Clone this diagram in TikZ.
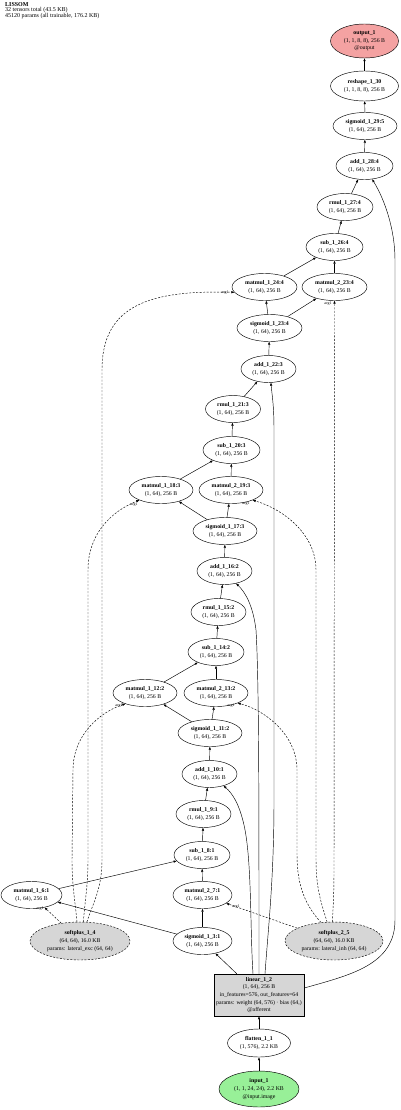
\documentclass[tikz,border=0pt]{standalone}
\usepackage{fontspec}
\setmainfont{Liberation Serif}
\usetikzlibrary{shapes.geometric,arrows.meta,calc}
\definecolor{outred}{HTML}{F4A2A2}
\definecolor{ingreen}{HTML}{98F098}
\definecolor{pgray}{HTML}{D6D6D6}
\begin{document}
\begin{tikzpicture}[x=1pt,y=-1pt,
  every node/.style={font=\fontsize{5.8}{7.6}\selectfont, inner sep=0pt},
  op/.style={ellipse, draw, line width=0.45pt, align=center, minimum height=27},
  parm/.style={op, fill=pgray, dash pattern=on 2pt off 1.5pt, minimum height=38},
  conn/.style={-{Triangle[length=3pt,width=2.2pt]}, line width=0.45pt},
  dconn/.style={conn, dash pattern=on 2pt off 1.5pt},
  arglbl/.style={font=\fontsize{4}{4}\selectfont}
]
\useasboundingbox (0,0) rectangle (400,1110);

\node[anchor=north west, align=left, font=\fontsize{6}{5.8}\selectfont] (title) at (5,2)
  {\textbf{LISSOM}\\32 tensors total (43.5 KB)\\45120 params (all trainable, 176.2 KB)};

% nodes
\node[op, fill=outred, minimum width=68, minimum height=34] (out) at (364.5,41) {\textbf{output\_1}\\(1, 1, 8, 8), 256 B\\@output};
\node[op, minimum width=68, minimum height=30] (resh) at (364.5,86) {\textbf{reshape\_1\_30}\\(1, 1, 8, 8), 256 B};
\node[op, minimum width=64] (sg29) at (365,126) {\textbf{sigmoid\_1\_29:5}\\(1, 64), 256 B};
\node[op, minimum width=57] (a28) at (364.5,166) {\textbf{add\_1\_28:4}\\(1, 64), 256 B};
\node[op, minimum width=56] (rm27) at (345,207) {\textbf{rmul\_1\_27:4}\\(1, 64), 256 B};
\node[op, minimum width=57] (sb26) at (334.5,247) {\textbf{sub\_1\_26:4}\\(1, 64), 256 B};
\node[op, minimum width=65] (m24) at (264.5,287) {\textbf{matmul\_1\_24:4}\\(1, 64), 256 B};
\node[op, minimum width=65] (m23) at (334.5,287) {\textbf{matmul\_2\_23:4}\\(1, 64), 256 B};
\node[op, minimum width=65] (sg23) at (269.5,328) {\textbf{sigmoid\_1\_23:4}\\(1, 64), 256 B};
\node[op, minimum width=55] (a22) at (268.5,369) {\textbf{add\_1\_22:3}\\(1, 64), 256 B};
\node[op, minimum width=55] (rm21) at (233,409) {\textbf{rmul\_1\_21:3}\\(1, 64), 256 B};
\node[op, minimum width=57] (sb20) at (231.5,450) {\textbf{sub\_1\_20:3}\\(1, 64), 256 B};
\node[op, minimum width=64] (m18) at (161,490) {\textbf{matmul\_1\_18:3}\\(1, 64), 256 B};
\node[op, minimum width=64] (m19) at (231,490) {\textbf{matmul\_2\_19:3}\\(1, 64), 256 B};
\node[op, minimum width=64] (sg17) at (225,531) {\textbf{sigmoid\_1\_17:3}\\(1, 64), 256 B};
\node[op, minimum width=55] (a16) at (224.5,571) {\textbf{add\_1\_16:2}\\(1, 64), 256 B};
\node[op, minimum width=55] (rm15) at (218.5,612) {\textbf{rmul\_1\_15:2}\\(1, 64), 256 B};
\node[op, minimum width=56] (sb14) at (216,652) {\textbf{sub\_1\_14:2}\\(1, 64), 256 B};
\node[op, minimum width=64] (m12) at (145,693) {\textbf{matmul\_1\_12:2}\\(1, 64), 256 B};
\node[op, minimum width=64] (m13) at (216,693) {\textbf{matmul\_2\_13:2}\\(1, 64), 256 B};
\node[op, minimum width=64] (sg11) at (210,733) {\textbf{sigmoid\_1\_11:2}\\(1, 64), 256 B};
\node[op, minimum width=55] (a10) at (209.5,774) {\textbf{add\_1\_10:1}\\(1, 64), 256 B};
\node[op, minimum width=55] (rm9) at (203.5,814) {\textbf{rmul\_1\_9:1}\\(1, 64), 256 B};
\node[op, minimum width=56] (sb8) at (202,855) {\textbf{sub\_1\_8:1}\\(1, 64), 256 B};
\node[op, minimum width=61] (m6) at (31.5,895) {\textbf{matmul\_1\_6:1}\\(1, 64), 256 B};
\node[op, minimum width=59] (m7) at (202.5,895) {\textbf{matmul\_2\_7:1}\\(1, 64), 256 B};
\node[parm, minimum width=100] (sp1) at (80,941) {\textbf{softplus\_1\_4}\\(64, 64), 16.0 KB\\params: lateral\_exc (64, 64)};
\node[op, minimum width=59] (sg3) at (202.5,941) {\textbf{sigmoid\_1\_3:1}\\(1, 64), 256 B};
\node[parm, minimum width=98] (sp2) at (334,941) {\textbf{softplus\_2\_5}\\(64, 64), 16.0 KB\\params: lateral\_inh (64, 64)};
\node[rectangle, draw, line width=0.45pt, fill=pgray, minimum width=90, minimum height=42, align=center] (lin) at (259,995)
  {\textbf{linear\_1\_2}\\(1, 64), 256 B\\in\_features=576, out\_features=64\\params: weight (64, 576) · bias (64,)\\@afferent};
\node[op, minimum width=63, minimum height=28] (fl) at (259,1043) {\textbf{flatten\_1\_1}\\(1, 576), 2.2 KB};
\node[op, fill=ingreen, minimum width=80, minimum height=36] (inp) at (259,1089) {\textbf{input\_1}\\(1, 1, 24, 24), 2.2 KB\\@input.image};

% connectors
\draw[conn] (inp) -- (fl);
\draw[conn] (fl) -- (lin);
\draw[conn] (lin) -- (sg3);
\draw[conn] ([xshift=-6pt]lin.north) .. controls (250,930) and (252,860) .. (244,825) .. controls (239,803) and (232,793) .. (a10.320);
\draw[conn] (lin.north) .. controls (259,800) and (259,680) .. (256,630) .. controls (253,605) and (245,592) .. (a16.313);
\draw[conn] ([xshift=6pt]lin.north) .. controls (268,930) and (274,880) .. (274,800) -- (274,430) .. controls (274,405) and (272,395) .. (a22.280);
\draw[conn] ([yshift=7pt]lin.east) .. controls (350,975) and (395,965) .. (395,920) -- (395,260) .. controls (395,230) and (385,200) .. (a28.300);

\draw[conn] (sg3) -- (m6);
\draw[conn] (sg3) -- (m7);
\draw[dconn] (sp1) -- (m6);
\draw[dconn] (sp2) -- (m7);
\draw[conn] (m6) -- (sb8);
\draw[conn] (m7) -- (sb8);
\draw[conn] (sb8) -- (rm9);
\draw[conn] (rm9) -- (a10);
\draw[conn] (a10) -- (sg11);
\draw[conn] (sg11) -- (m12);
\draw[conn] (sg11) -- (m13);
\draw[dconn] (sp1.99) .. controls (75,900) and (72,885) .. (72,860) -- (73,770) .. controls (73,735) and (100,712) .. (m12.209);
\draw[dconn] (sp2.125) .. controls (305,905) and (297,885) .. (297,855) -- (297,770) .. controls (297,735) and (265,710) .. (m13.335);
\draw[conn] (m12) -- (sb14);
\draw[conn] (m13) -- (sb14);
\draw[conn] (sb14) -- (rm15);
\draw[conn] (rm15) -- (a16);
\draw[conn] (a16) -- (sg17);
\draw[conn] (sg17) -- (m18);
\draw[conn] (sg17) -- (m19);
\draw[dconn] (sp1.80) .. controls (85,900) and (88,885) .. (88,860) -- (88,570) .. controls (88,535) and (110,512) .. (m18.205);
\draw[dconn] (sp2.110) .. controls (322,905) and (316,890) .. (316,860) -- (316,570) .. controls (316,535) and (285,510) .. (m19.335);
\draw[conn] (m18) -- (sb20);
\draw[conn] (m19) -- (sb20);
\draw[conn] (sb20) -- (rm21);
\draw[conn] (rm21) -- (a22);
\draw[conn] (a22) -- (sg23);
\draw[conn] (sg23) -- (m24);
\draw[conn] (sg23) -- (m23);
\draw[dconn] (sp1.70) .. controls (92,905) and (102,890) .. (102,860) -- (102,370) .. controls (102,305) and (150,290) .. (m24.190);
\draw[dconn] (sp2.95) .. controls (333,910) and (334,895) .. (334,870) -- (m23.south);
\draw[conn] (m24) -- (sb26);
\draw[conn] (m23) -- (sb26);
\draw[conn] (sb26) -- (rm27);
\draw[conn] (rm27) -- (a28);
\draw[conn] (a28) -- (sg29);
\draw[conn] (sg29) -- (resh);
\draw[conn] (resh) -- (out);

% edge labels
\node[arglbl] (l6) at (40,909) {arg1};
\node[arglbl] (l7) at (236,907) {arg1};
\node[arglbl] (l12) at (119,706) {arg1};
\node[arglbl] (l13) at (231,706) {arg1};
\node[arglbl] (l18) at (134,505) {arg1};
\node[arglbl] (l19) at (246,504) {arg1};
\node[arglbl] (l24) at (225,293) {arg1};
\node[arglbl] (l23) at (328,304) {arg1};
\end{tikzpicture}
\end{document}
